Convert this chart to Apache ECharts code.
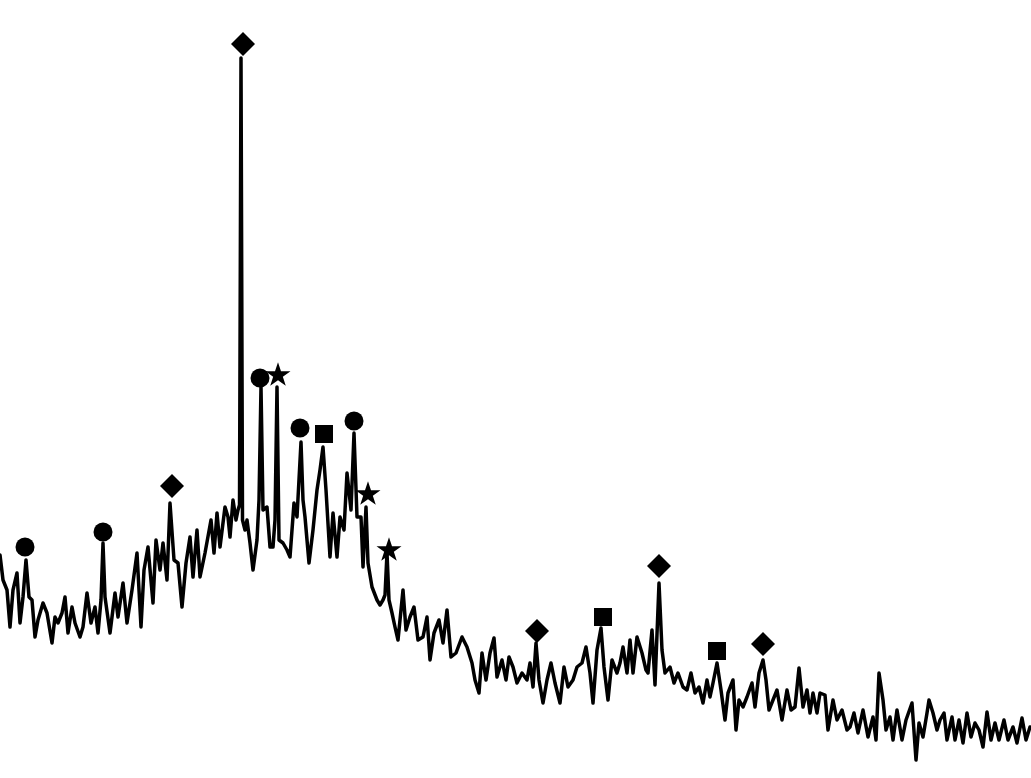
<!DOCTYPE html>
<html>
<head>
<meta charset="utf-8">
<script src="https://cdn.jsdelivr.net/npm/echarts@6/dist/echarts.min.js"></script>
<style>
html,body{margin:0;padding:0;background:#fff;}
#chart{width:1031px;height:778px;}
</style>
</head>
<body>
<div id="chart"></div>
<script>
// Diffraction angle positions (arbitrary units across the plot width)
const angle = [0,3,7,10,13,17,20,23,26,29,32,35,38,43,47,52,55,58,62,65,68,72,75,80,83,87,91,95,98,101,103,105,110,115,118,123,127,132,137,141,144,148,153,156,160,163,167,170,174,178,182,186,190,193,197,200,205,211,214,217,220,225,228,230,233,236,238,239.5,241,242.5,245,247,250,253,257,259,261,263,267,270,273,275,277,279,283,287,290,294,297,301,303,305,309,313,317,320,323,326,330,333,337,340,344,347,351,354,357,361,363,366,368,372,377,380,383,385,387,389,392,395,398,403,406,410,414,418,423,427,430,434,439,443,447,451,456,462,467,472,475,479,482,486,490,494,497,502,506,509,513,517,522,527,530,533,536,539,543,547,551,555,560,564,568,573,577,582,586,590,593,597,601,604,608,612,617,620,623,627,630,633,637,642,646,648,652,655,659,662,665,670,674,678,683,687,691,695,699,703,707,710,713,717,721,725,728,733,736,739,743,747,752,755,759,763,766,769,773,777,782,787,791,795,799,803,807,810,813,817,820,825,828,833,837,842,847,850,854,858,863,868,873,876,879,883,886,890,893,897,902,906,912,916,919,923,927,929,933,937,940,944,947,952,955,959,963,967,971,975,979,983,987,991,995,999,1004,1008,1013,1017,1022,1026,1030];
const tracePx = [555,580,590,627,590,573,623,597,560,597,600,637,620,603,613,643,617,623,613,597,633,607,623,637,627,593,623,607,633,600,543,597,633,593,617,583,623,590,553,627,570,547,603,540,570,543,580,503,560,563,607,563,537,577,530,577,553,520,553,513,547,507,517,537,500,520,510,505,58,520,530,520,543,570,540,500,387,510,507,547,547,520,387,540,543,550,557,503,517,442,500,517,563,530,490,470,447,490,557,513,557,517,530,473,510,433,517,517,567,507,563,587,600,605,600,595,553,600,613,627,640,590,630,617,607,640,637,617,660,633,620,643,610,657,653,637,647,663,680,693,653,680,653,638,677,660,680,657,667,683,673,680,663,687,643,680,703,680,663,683,703,667,687,680,667,663,647,673,703,650,628,667,700,660,673,663,647,673,640,673,637,653,670,673,630,685,583,650,673,667,683,673,687,690,673,693,687,703,680,697,683,663,690,720,693,680,730,700,707,697,683,707,673,660,680,710,700,690,720,690,710,707,668,707,690,713,693,713,693,695,730,700,720,710,730,727,713,733,710,737,717,740,673,700,730,717,740,710,740,720,703,760,723,737,713,700,713,730,720,713,740,717,740,720,743,713,737,723,730,747,712,740,723,740,720,740,727,743,718,740,727];
const intensity = tracePx.map(v => 778 - v);

// Phase marker positions [angle, intensity]
const circlePeaks  = [[25,231],[103,246],[260,400],[300,350],[354,357]];
const diamondPeaks = [[172,292],[243,734],[537,147],[659,212],[763,134]];
const starPeaks    = [[278,404],[368,285],[389,229]];
const squarePeaks  = [[324,344],[603,161],[717,127]];

const linePts = angle.map((a, i) => [a, intensity[i]]);
const starPath = 'path://M50,0 L61.8,35.4 L99,35.4 L69,57.3 L80.4,92.7 L50,70.8 L19.6,92.7 L31,57.3 L1,35.4 L38.2,35.4 Z';
const mark = {color: '#000', opacity: 1};

const chart = echarts.init(document.getElementById('chart'));
chart.setOption({
  animation: false,
  backgroundColor: '#ffffff',
  grid: {left: 0, right: 0, top: 0, bottom: 0},
  xAxis: {type: 'value', min: 0, max: 1031, show: false},
  yAxis: {type: 'value', min: 0, max: 778, show: false},
  series: [
    {type: 'line', data: linePts, symbol: 'none', smooth: false,
     lineStyle: {color: '#000', width: 3.5, join: 'round', cap: 'round'}},
    {type: 'scatter', data: circlePeaks, symbol: 'circle', symbolSize: 19, itemStyle: mark},
    {type: 'scatter', data: diamondPeaks, symbol: 'diamond', symbolSize: 24, itemStyle: mark},
    {type: 'scatter', data: starPeaks, symbol: starPath, symbolKeepAspect: true, symbolSize: 25, itemStyle: mark},
    {type: 'scatter', data: squarePeaks, symbol: 'rect', symbolSize: 18, itemStyle: mark}
  ]
});
</script>
</body>
</html>
